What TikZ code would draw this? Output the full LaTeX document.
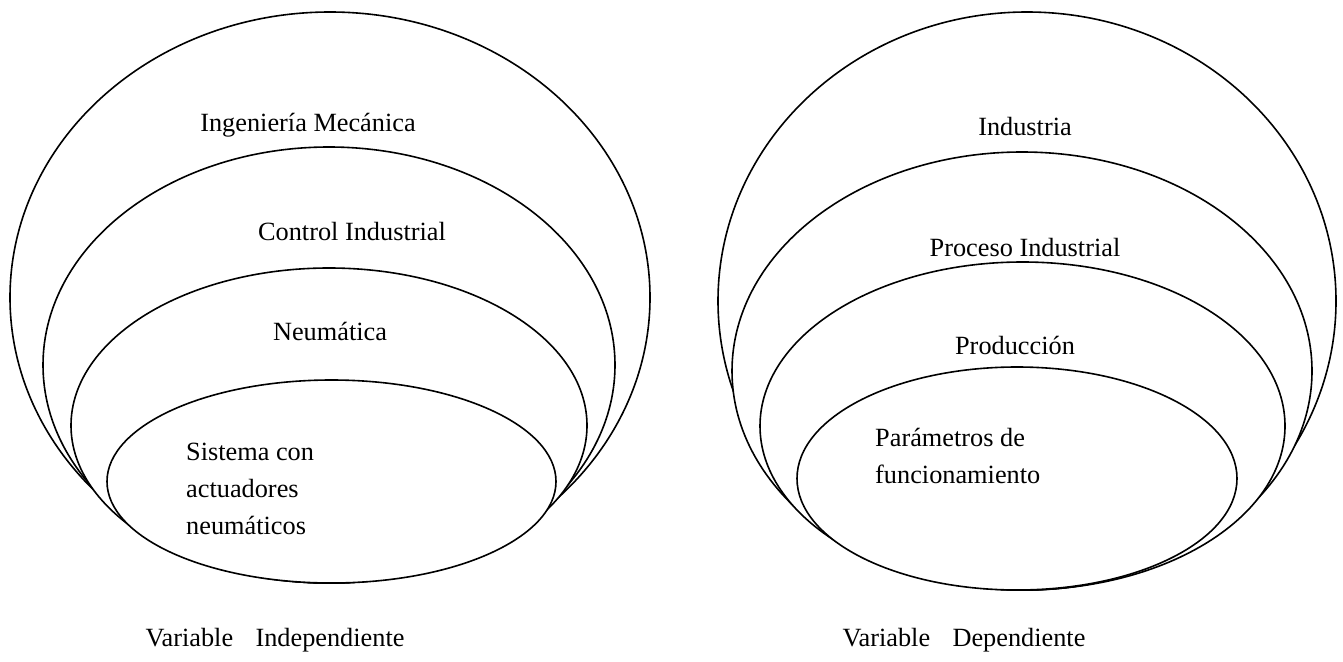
\documentclass[tikz,border=0pt]{standalone}
\usepackage{fontspec}
\setmainfont{Liberation Serif}
\tikzset{
  ring/.style={draw=black, line width=1.6pt, fill=white},
  lbl/.style={inner sep=0pt, font=\fontsize{26.3}{37}\selectfont},
  lbll/.style={lbl, anchor=west, align=left}
}
\begin{document}
\begin{tikzpicture}[x=1pt,y=-1pt]
\useasboundingbox (0,0) rectangle (1343,661);
% left group
\draw[ring] (330,297.5) ellipse [x radius=320pt, y radius=285.5pt];
\draw[ring] (329,365) ellipse [x radius=286pt, y radius=218pt];
\draw[ring] (329,425.5) ellipse [x radius=258pt, y radius=157.5pt];
\draw[ring] (331.5,481.5) ellipse [x radius=224.5pt, y radius=101.5pt];
\node[lbl] (ing) at (308,125) {Ingeniería Mecánica};
\node[lbl] (ctl) at (352,232) {Control Industrial};
\node[lbl] (neu) at (330,331) {Neumática};
\node[lbll] (sis) at (186,489) {Sistema con\\actuadores\\neumáticos};
\node[lbl] (vi) at (275,640) {Variable\hspace{0.85em}Independiente};
% right group
\draw[ring] (1027,301) ellipse [x radius=309pt, y radius=289pt];
\draw[ring] (1022,371) ellipse [x radius=290pt, y radius=219pt];
\draw[ring] (1022.5,426) ellipse [x radius=262.5pt, y radius=164pt];
\draw[ring] (1017,478.5) ellipse [x radius=220pt, y radius=111.5pt];
\node[lbl] (ind) at (1025,127) {Industria};
\node[lbl] (pro) at (1025,248) {Proceso Industrial};
\node[lbl] (prd) at (1015,345) {Producción};
\node[lbll] (par) at (875,456) {Parámetros de\\funcionamiento};
\node[lbl] (vd) at (964,640) {Variable\hspace{0.85em}Dependiente};
\end{tikzpicture}
\end{document}
